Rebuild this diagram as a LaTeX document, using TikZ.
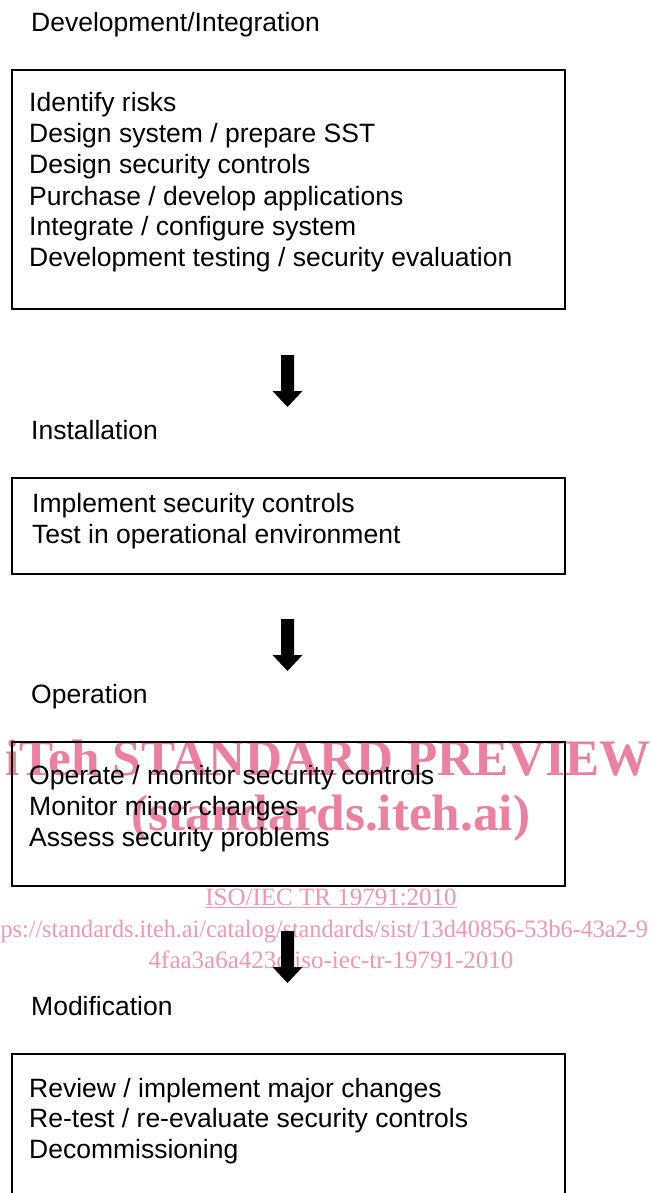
\documentclass[tikz,border=0pt]{standalone}
\usepackage{fontspec}
\setmainfont{Liberation Sans}
\newfontfamily\wmfont{Liberation Serif}
\definecolor{wmpink}{RGB}{236,128,160}
\definecolor{wmlight}{RGB}{242,150,180}
\begin{document}
\begin{tikzpicture}[x=1pt,y=-1pt,
  stagebox/.style={draw=black,line width=1.8pt,anchor=north west,inner sep=0pt,minimum width=553pt},
  txt/.style={anchor=base west,inner sep=0pt,font=\fontsize{26.5}{30.8}\selectfont},
  bigarrow/.style={fill=black,draw=none},
  wmbig/.style={anchor=base,inner sep=0pt,text=wmpink,font=\wmfont\bfseries\fontsize{51.2}{51}\selectfont},
  wmsmall/.style={anchor=base,inner sep=0pt,text=wmlight,font=\wmfont\fontsize{25}{25}\selectfont}]
\useasboundingbox (0,0) rectangle (650,1193);
\clip (0,0) rectangle (650,1193);

% watermark
\node[wmbig] (wm1) at (328,775) {iTeh STANDARD PREVIEW};
\node[wmbig] (wm2) at (331,830) {(standards.iteh.ai)};
\node[wmsmall] (wm3) at (331,905) {\underline{ISO/IEC TR 19791:2010}};
\node[wmsmall,anchor=base east] (wm4) at (648,937) {\scalebox{0.967}[1]{https://standards.iteh.ai/catalog/standards/sist/13d40856-53b6-43a2-9}};
\node[wmsmall] (wm5) at (331,968) {4faa3a6a423c/iso-iec-tr-19791-2010};

% stage labels
\node[txt] (l1) at (31,31.5) {Development/Integration};
\node[txt] (l2) at (31,439) {Installation};
\node[txt] (l3) at (31,703) {Operation};
\node[txt] (l4) at (31,1015) {Modification};

% boxes
\node[stagebox,minimum height=239pt] (b1) at (11,69) {};
\node[stagebox,minimum height=96pt] (b2) at (11,477) {};
\node[stagebox,minimum height=144pt] (b3) at (11,741) {};
\node[stagebox,minimum height=200pt] (b4) at (11,1053) {};

% box texts
\node[txt] (t11) at (29,112) {Identify risks};
\node[txt] (t12) at (29,143) {Design system / prepare SST};
\node[txt] (t13) at (29,174) {Design security controls};
\node[txt] (t14) at (29,205) {Purchase / develop applications};
\node[txt] (t15) at (29,235.5) {Integrate / configure system};
\node[txt] (t16) at (29,266) {Development testing / security evaluation};

\node[txt] (t21) at (32,512) {Implement security controls};
\node[txt] (t22) at (32,543) {Test in operational environment};

\node[txt] (t31) at (29,784) {Operate / monitor security controls};
\node[txt] (t32) at (29,815) {Monitor minor changes};
\node[txt] (t33) at (29,846) {Assess security problems};

\node[txt] (t41) at (29,1097) {Review / implement major changes};
\node[txt] (t42) at (29,1127.5) {Re-test / re-evaluate security controls};
\node[txt] (t43) at (29,1158) {Decommissioning};

% arrows
\coordinate (a1) at (287.5,355);
\coordinate (a2) at (287.5,619);
\coordinate (a3) at (287.5,931);
\foreach \a in {a1,a2,a3}{
  \fill[bigarrow] (\a) ++(-6.5,0) -- ++(13,0) -- ++(0,36) -- ++(8.5,0) -- ++(-15,16) -- ++(-15,-16) -- ++(8.5,0) -- cycle;
}
\end{tikzpicture}
\end{document}
